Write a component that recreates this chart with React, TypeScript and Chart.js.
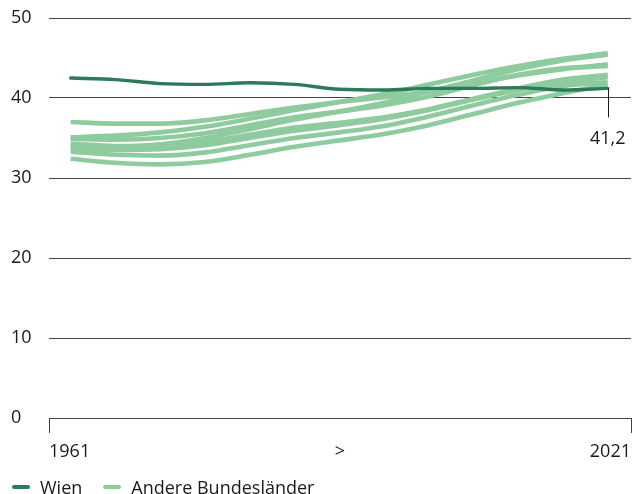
import React, { useEffect, useRef } from "react";
import { Chart, registerables } from "chart.js";

Chart.register(...registerables);

const years = [1961, 1966, 1971, 1976, 1981, 1986, 1991, 1996, 2001, 2006, 2011, 2016, 2021];

const wien = [42.5, 42.3, 41.8, 41.7, 41.9, 41.7, 41.1, 41.0, 41.2, 41.2, 41.3, 41.0, 41.2];

const burgenland = [35.1, 35.3, 35.7, 36.4, 37.4, 38.5, 39.5, 40.5, 41.7, 42.9, 44.0, 44.9, 45.6];
const kaernten = [34.0, 33.9, 34.2, 35.0, 36.1, 37.3, 38.3, 39.4, 40.8, 42.2, 43.6, 44.7, 45.4];
const niederoesterreich = [37.0, 36.8, 36.8, 37.2, 38.0, 38.8, 39.5, 40.1, 40.8, 41.8, 42.8, 43.6, 44.2];
const steiermark = [34.9, 34.8, 35.0, 35.6, 36.6, 37.6, 38.3, 39.1, 40.2, 41.6, 42.9, 43.7, 44.0];
const oberoesterreich = [34.3, 34.0, 34.0, 34.5, 35.4, 36.3, 36.9, 37.6, 38.6, 39.9, 41.2, 42.3, 42.9];
const salzburg = [33.7, 33.5, 33.6, 34.1, 35.0, 35.9, 36.6, 37.4, 38.5, 39.8, 41.0, 42.0, 42.6];
const tirol = [33.3, 32.9, 32.8, 33.2, 34.1, 35.0, 35.7, 36.5, 37.7, 39.1, 40.4, 41.5, 42.0];
const vorarlberg = [32.4, 31.9, 31.7, 32.0, 32.9, 33.9, 34.7, 35.5, 36.6, 38.0, 39.4, 40.6, 41.7];

const others: [string, number[]][] = [
  ["Burgenland", burgenland],
  ["Kärnten", kaernten],
  ["Niederösterreich", niederoesterreich],
  ["Steiermark", steiermark],
  ["Oberösterreich", oberoesterreich],
  ["Salzburg", salzburg],
  ["Tirol", tirol],
  ["Vorarlberg", vorarlberg],
];

const xTickLabels = ["1961", ">", "2021"];
const yTicks = [0, 10, 20, 30, 40, 50];
const annotationYear = 2021;
const annotationValue = 41.2;
const annotationText = "41,2";

const DARK = "#2c7a57";
const LIGHT = "#8ecb9e";
const GRID = "#444444";
const TEXT = "#1a1a1a";
const FONT = "'Open Sans', sans-serif";

const xMin = 1958.58;
const xMax = 2023.6;

const annotationPlugin = {
  id: "endAnnotation",
  afterDatasetsDraw(chart: any) {
    const { ctx, scales } = chart;
    const x = scales.x.getPixelForValue(annotationYear);
    const y = scales.y.getPixelForValue(annotationValue);
    ctx.save();
    ctx.strokeStyle = TEXT;
    ctx.lineWidth = 1;
    ctx.beginPath();
    ctx.moveTo(Math.round(x) + 0.5, y);
    ctx.lineTo(Math.round(x) + 0.5, y + 29);
    ctx.stroke();
    ctx.fillStyle = TEXT;
    ctx.font = `18px ${FONT}`;
    ctx.textAlign = "center";
    ctx.textBaseline = "middle";
    ctx.fillText(annotationText, x, y + 50);
    ctx.restore();
  },
};

export default function App() {
  const ref = useRef<HTMLCanvasElement | null>(null);

  useEffect(() => {
    if (!ref.current) return;
    const datasets: any[] = [
      {
        label: "Wien",
        data: years.map((yr, i) => ({ x: yr, y: wien[i] })),
        borderColor: DARK,
        backgroundColor: DARK,
        borderWidth: 3.4,
        pointRadius: 0,
        cubicInterpolationMode: "monotone",
        borderCapStyle: "round",
      },
      ...others.map(([name, vals]) => ({
        label: name,
        data: years.map((yr, i) => ({ x: yr, y: vals[i] })),
        borderColor: LIGHT,
        backgroundColor: LIGHT,
        borderWidth: 4.6,
        pointRadius: 0,
        cubicInterpolationMode: "monotone",
        borderCapStyle: "butt",
      })),
    ];

    const chart = new Chart(ref.current, {
      type: "line",
      data: { datasets },
      options: {
        animation: false,
        responsive: false,
        maintainAspectRatio: false,
        layout: { padding: { left: 11, right: 1, top: 18, bottom: 30 } },
        plugins: {
          legend: { display: false },
          tooltip: { enabled: false },
        },
        scales: {
          x: {
            type: "linear",
            min: xMin,
            max: xMax,
            afterBuildTicks: (scale: any) => {
              scale.ticks = [
                { value: xMin },
                { value: (xMin + xMax) / 2 },
                { value: xMax },
              ];
            },
            afterFit: (scale: any) => {
              scale.height = 494 - 30 - 418;
              scale.paddingLeft = 0;
              scale.paddingRight = 0;
            },
            border: { display: true, color: GRID, width: 1 },
            grid: {
              display: true,
              drawOnChartArea: false,
              drawTicks: true,
              tickLength: 15,
              color: (c: any) => (c.index === 1 ? "rgba(0,0,0,0)" : GRID),
            },
            ticks: {
              autoSkip: false,
              maxRotation: 0,
              align: "inner",
              padding: 8,
              color: TEXT,
              font: { family: FONT, size: 18 },
              callback: (_v: any, i: number) => xTickLabels[i],
            },
          },
          y: {
            min: 0,
            max: 50,
            afterBuildTicks: (scale: any) => {
              scale.ticks = yTicks.map((v) => ({ value: v }));
            },
            afterFit: (scale: any) => {
              scale.width = 38;
            },
            border: { display: false },
            grid: {
              color: GRID,
              lineWidth: 1,
              drawTicks: false,
            },
            ticks: {
              crossAlign: "far",
              padding: 0,
              color: TEXT,
              font: { family: FONT, size: 18 },
            },
          },
        },
      },
      plugins: [annotationPlugin],
    } as any);
    return () => chart.destroy();
  }, []);

  const legendItem = (color: string, text: string, ml: number) => (
    <div style={{ display: "flex", alignItems: "center", marginLeft: ml }}>
      <span
        style={{
          display: "inline-block",
          width: 18,
          height: 4,
          borderRadius: 2,
          background: color,
          marginRight: 10,
        }}
      />
      <span>{text}</span>
    </div>
  );

  return (
    <div style={{ position: "fixed", left: 0, top: 0, width: 632, height: 494, background: "#fff" }}>
      <canvas ref={ref} width={632} height={494} style={{ display: "block" }} />
      <div
        style={{
          position: "absolute",
          left: 12,
          top: 475,
          height: 24,
          display: "flex",
          alignItems: "center",
          fontFamily: FONT,
          fontSize: 18,
          color: TEXT,
          lineHeight: "24px",
        }}
      >
        {legendItem(DARK, "Wien", 0)}
        {legendItem(LIGHT, "Andere Bundesländer", 21)}
      </div>
    </div>
  );
}
